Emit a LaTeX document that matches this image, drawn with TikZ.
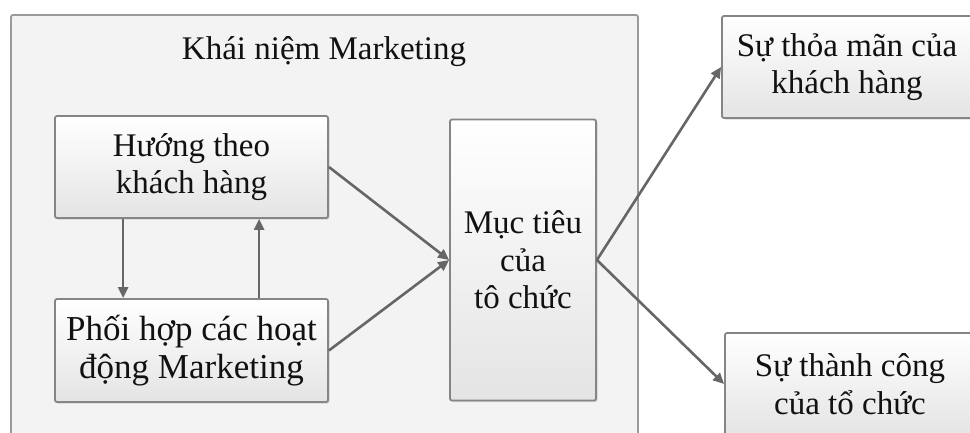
\documentclass[tikz,border=0pt]{standalone}
\usepackage{fontspec}
\setmainfont{Liberation Serif}
\usetikzlibrary{arrows.meta,shadows}
\definecolor{outerfill}{HTML}{F3F3F3}
\definecolor{outerdraw}{HTML}{9A9A9A}
\definecolor{boxdraw}{HTML}{858585}
\definecolor{boxbot}{HTML}{E4E4E4}
\definecolor{arrowc}{HTML}{666666}
\definecolor{txt}{HTML}{111111}
\tikzset{
  lbl/.style={font=\fontsize{33}{37.5}\selectfont, text=txt, align=center},
  box/.style={lbl, draw=boxdraw, line width=1.8pt, rounded corners=2pt,
    top color=white, bottom color=boxbot, inner sep=0pt,
    drop shadow={shadow xshift=1.5pt, shadow yshift=-1.5pt, fill=black!25, opacity=0.6}},
  arr/.style={draw=arrowc, line width=2.6pt, -{Triangle[length=11pt,width=10pt]}},
}
\begin{document}
\begin{tikzpicture}[x=1pt,y=-1pt]
\useasboundingbox (0,0) rectangle (970,432);
\clip (0,0) rectangle (970,432);
\fill[white] (0,0) rectangle (970,432);
% outer container
\draw[draw=outerdraw, fill=outerfill, line width=1.8pt, rounded corners=2pt] (11,15) rectangle (638,470);
\node[lbl] (title) at (324,52) {Khái niệm Marketing};
% inner boxes
\node[box, minimum width=273pt, minimum height=102pt] (b1) at (191.5,167) {Hướng theo\\khách hàng};
\node[box, minimum width=273pt, minimum height=103pt, font=\fontsize{35}{38}\selectfont] (b2) at (191.5,350.5) {Phối hợp các hoạt\\động Marketing};
\node[box, minimum width=146pt, minimum height=281pt] (goal) at (523,260) {Mục tiêu\\của\\tô chức};
\node[box, minimum width=250pt, minimum height=102pt] (r1) at (847,67) {Sự thỏa mãn của\\khách hàng};
\node[box, minimum width=250pt, minimum height=102pt] (r2) at (850,384) {Sự thành công\\của tổ chức};
% connectors
\draw[arr] ([xshift=69pt]b1.south west) -- ([xshift=69pt]b2.north west);
\draw[arr] ([xshift=205pt]b2.north west) -- ([xshift=205pt]b1.south west);
\draw[arr] (b1.east) -- (goal.west);
\draw[arr] (b2.east) -- (goal.west);
\draw[arr] (goal.east) -- (r1.west);
\draw[arr] (goal.east) -- (r2.west);
\end{tikzpicture}
\end{document}
